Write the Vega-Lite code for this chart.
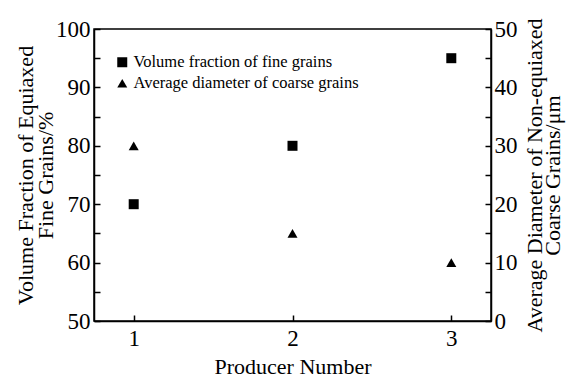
{
  "$schema": "https://vega.github.io/schema/vega-lite/v6.json",
  "width": 397,
  "height": 292,
  "autosize": {"type": "none"},
  "padding": {"left": 94, "top": 29, "right": 82, "bottom": 60},
  "background": "white",
  "config": {
    "font": "Liberation Serif",
    "view": {"stroke": "black", "strokeWidth": 1.5},
    "axis": {
      "domainColor": "black",
      "domainWidth": 1.5,
      "tickColor": "black",
      "tickWidth": 1.5,
      "tickSize": -6,
      "grid": false,
      "labelFont": "Liberation Serif",
      "labelFontSize": 23,
      "labelColor": "black",
      "titleFont": "Liberation Serif",
      "titleFontSize": 22,
      "titleFontWeight": "normal",
      "titleColor": "black",
      "titleLineHeight": 20
    }
  },
  "data": {
    "values": [
      {"producer": 1, "fine": 70, "coarse": 30},
      {"producer": 2, "fine": 80, "coarse": 15},
      {"producer": 3, "fine": 95, "coarse": 10}
    ]
  },
  "encoding": {
    "x": {
      "field": "producer",
      "type": "quantitative",
      "scale": {"domain": [0.75, 3.25], "nice": false, "zero": false},
      "axis": {
        "title": "Producer Number",
        "values": [1, 1.5, 2, 2.5, 3],
        "format": "d",
        "labelExpr": "datum.value % 1 == 0 ? datum.label : ''",
        "labelPadding": 12,
        "titlePadding": 6
      }
    }
  },
  "layer": [
    {
      "mark": {"type": "point", "filled": true, "opacity": 1, "color": "black"},
      "transform": [{"calculate": "'Volume fraction of fine grains'", "as": "series"}],
      "encoding": {
        "y": {
          "field": "fine",
          "type": "quantitative",
          "scale": {"domain": [50, 100], "nice": false, "zero": false},
          "axis": {
            "orient": "left",
            "title": ["Volume Fraction of Equiaxed", "Fine Grains/%"],
            "titleAngle": -90,
            "values": [50, 55, 60, 65, 70, 75, 80, 85, 90, 95, 100],
            "labelExpr": "datum.value % 10 == 0 ? datum.label : ''",
            "labelPadding": 10,
            "titlePadding": -2
          }
        },
        "shape": {
          "field": "series",
          "type": "nominal",
          "scale": {
            "domain": ["Volume fraction of fine grains", "Average diameter of coarse grains"],
            "range": ["square", "triangle-up"]
          },
          "legend": {
            "orient": "none",
            "legendX": 20,
            "legendY": 25,
            "title": null,
            "labelFont": "Liberation Serif",
            "labelFontSize": 16.5,
            "labelColor": "black",
            "labelLimit": 400,
            "symbolFillColor": "black",
            "symbolStrokeColor": "black",
            "symbolSize": 100,
            "rowPadding": 4,
            "labelOffset": 3
          }
        },
        "size": {"value": 100}
      }
    },
    {
      "mark": {"type": "point", "filled": true, "opacity": 1, "color": "black"},
      "transform": [{"calculate": "'Average diameter of coarse grains'", "as": "series"}],
      "encoding": {
        "y": {
          "field": "coarse",
          "type": "quantitative",
          "scale": {"domain": [0, 50], "nice": false, "zero": false},
          "axis": {
            "orient": "right",
            "title": ["Average Diameter of Non-equiaxed", "Coarse Grains/μm"],
            "titleAngle": -90,
            "titleLineHeight": 18,
            "values": [0, 5, 10, 15, 20, 25, 30, 35, 40, 45, 50],
            "labelExpr": "datum.value % 10 == 0 ? datum.label : ''",
            "labelPadding": 9,
            "titlePadding": 11
          }
        },
        "shape": {"field": "series", "type": "nominal"},
        "size": {"value": 100}
      }
    }
  ],
  "resolve": {"scale": {"y": "independent"}}
}
